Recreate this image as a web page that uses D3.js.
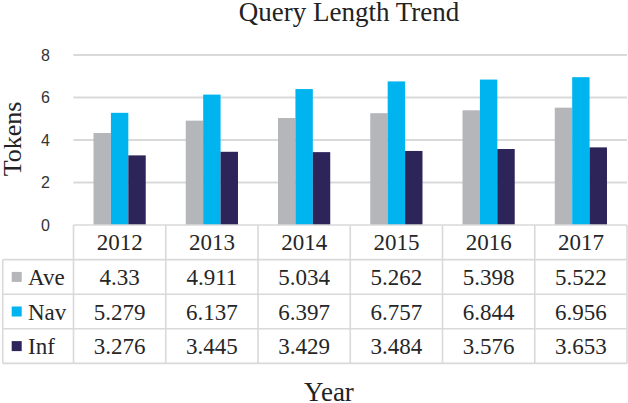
<!DOCTYPE html>
<html>
<head>
<meta charset="utf-8">
<script src="https://cdn.jsdelivr.net/npm/d3@7"></script>
<style>
  body { margin: 0; background: #fff; }
  svg { display: block; }
</style>
</head>
<body>
<div id="chart"></div>
<script>
const years = ['2012', '2013', '2014', '2015', '2016', '2017'];
const seriesNames = ['Ave', 'Nav', 'Inf'];
const aveValues = [4.33, 4.911, 5.034, 5.262, 5.398, 5.522];
const navValues = [5.279, 6.137, 6.397, 6.757, 6.844, 6.956];
const infValues = [3.276, 3.445, 3.429, 3.484, 3.576, 3.653];
const aveLabels = ['4.33', '4.911', '5.034', '5.262', '5.398', '5.522'];
const navLabels = ['5.279', '6.137', '6.397', '6.757', '6.844', '6.956'];
const infLabels = ['3.276', '3.445', '3.429', '3.484', '3.576', '3.653'];
const yTicks = [0, 2, 4, 6, 8];

const width = 628;
const height = 403;
const colors = { Ave: '#b5b6ba', Nav: '#00b4ef', Inf: '#2d2459' };
const gridColor = '#d9d9d9';
const serif = '"Liberation Serif", "Times New Roman", serif';
const sans = '"Liberation Sans", Arial, sans-serif';

const series = [
  { name: 'Ave', values: aveValues, labels: aveLabels },
  { name: 'Nav', values: navValues, labels: navLabels },
  { name: 'Inf', values: infValues, labels: infLabels }
];

const plot = { left: 73.5, right: 627, top: 55, bottom: 225 };
const table = { left: 2.7, rowH: 34.6 };

const svg = d3.select('#chart').append('svg')
  .attr('width', width)
  .attr('height', height);

const x0 = d3.scaleBand()
  .domain(years)
  .range([plot.left, plot.right]);

const x1 = d3.scaleBand()
  .domain(seriesNames)
  .range([0, x0.bandwidth()])
  .paddingOuter(1.15);

const y = d3.scaleLinear()
  .domain([0, 8])
  .range([plot.bottom, plot.top]);

// title
svg.append('text')
  .attr('x', 349)
  .attr('y', 21)
  .attr('text-anchor', 'middle')
  .attr('font-family', serif)
  .attr('font-size', 27)
  .attr('fill', '#222')
  .text('Query Length Trend');

// gridlines
svg.append('g')
  .selectAll('line')
  .data(yTicks.filter(d => d > 0))
  .enter()
  .append('line')
    .attr('x1', plot.left)
    .attr('x2', plot.right)
    .attr('y1', d => y(d))
    .attr('y2', d => y(d))
    .attr('stroke', gridColor)
    .attr('stroke-width', 2);

// y axis labels
const yAxis = d3.axisLeft(y).tickValues(yTicks).tickSize(0).tickPadding(0);
const yg = svg.append('g')
  .attr('transform', 'translate(50,0)')
  .call(yAxis);
yg.select('.domain').remove();
yg.selectAll('text')
  .attr('font-family', sans)
  .attr('font-size', 16)
  .attr('fill', '#333');

// y title
svg.append('text')
  .attr('transform', 'translate(21,139) rotate(-90)')
  .attr('text-anchor', 'middle')
  .attr('font-family', serif)
  .attr('font-size', 26)
  .attr('fill', '#222')
  .text('Tokens');

// bars
svg.append('g')
  .selectAll('g')
  .data(series)
  .enter()
  .append('g')
    .attr('fill', d => colors[d.name])
  .selectAll('rect')
    .data(d => d.values.map((v, i) => ({ name: d.name, year: years[i], value: v })))
  .enter()
  .append('rect')
    .attr('x', d => x0(d.year) + x1(d.name))
    .attr('width', x1.bandwidth())
    .attr('y', d => y(d.value))
    .attr('height', d => y(0) - y(d.value));

// data table
const rowTop = i => plot.bottom + i * table.rowH;
const tbl = svg.append('g')
  .attr('stroke', gridColor)
  .attr('stroke-width', 1.6)
  .attr('fill', 'none');

// horizontal lines
for (let i = 0; i <= 4; i++) {
  tbl.append('line')
    .attr('x1', i === 0 ? plot.left : table.left)
    .attr('x2', plot.right)
    .attr('y1', rowTop(i))
    .attr('y2', rowTop(i));
}
// vertical lines
tbl.append('line')
  .attr('x1', table.left).attr('x2', table.left)
  .attr('y1', rowTop(1)).attr('y2', rowTop(4));
years.forEach(yr => {
  tbl.append('line')
    .attr('x1', x0(yr)).attr('x2', x0(yr))
    .attr('y1', rowTop(0)).attr('y2', rowTop(4));
});
tbl.append('line')
  .attr('x1', plot.right).attr('x2', plot.right)
  .attr('y1', rowTop(0)).attr('y2', rowTop(4));

const cellText = svg.append('g')
  .attr('font-family', serif)
  .attr('font-size', 23)
  .attr('fill', '#262626')
  .attr('text-anchor', 'middle');

cellText.selectAll('text.year')
  .data(years)
  .enter()
  .append('text')
    .attr('class', 'year')
    .attr('x', d => x0(d) + x0.bandwidth() / 2)
    .attr('y', rowTop(0) + table.rowH / 2 + 8)
    .text(d => d);

series.forEach((s, si) => {
  const cy = rowTop(si + 1) + table.rowH / 2;
  cellText.selectAll('text.v' + si)
    .data(s.labels)
    .enter()
    .append('text')
      .attr('class', 'v' + si)
      .attr('x', (d, i) => x0(years[i]) + x0.bandwidth() / 2)
      .attr('y', cy + 8)
      .text(d => d);

  svg.append('rect')
    .attr('x', 11.7)
    .attr('y', cy - 5)
    .attr('width', 10)
    .attr('height', 10)
    .attr('fill', colors[s.name]);

  svg.append('text')
    .attr('x', 28)
    .attr('y', cy + 8)
    .attr('font-family', serif)
    .attr('font-size', 23)
    .attr('fill', '#262626')
    .text(s.name);
});

// x title
svg.append('text')
  .attr('x', 329)
  .attr('y', 401)
  .attr('text-anchor', 'middle')
  .attr('font-family', serif)
  .attr('font-size', 27)
  .attr('fill', '#222')
  .text('Year');
</script>
</body>
</html>
